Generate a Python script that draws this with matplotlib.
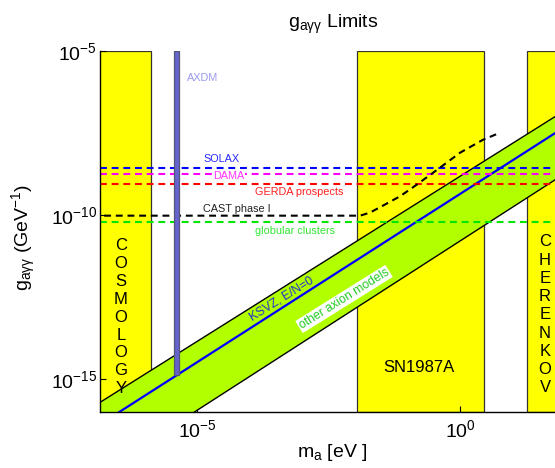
import matplotlib
matplotlib.use("Agg")
import matplotlib.pyplot as plt

plt.rcParams['font.family'] = ['Liberation Sans', 'DejaVu Sans']
plt.rcParams['mathtext.fontset'] = 'custom'
plt.rcParams['mathtext.rm'] = 'Liberation Sans'
plt.rcParams['mathtext.it'] = 'Liberation Sans:italic'
plt.rcParams['mathtext.bf'] = 'Liberation Sans:bold'

# ---------------- data ----------------
x_limits = [10 ** -6.857, 10 ** 1.81]        # m_a [eV]
y_limits = [1e-16, 1e-5]                    # g [GeV^-1]

x_ticks = [1e-5, 1e0]
x_tick_labels = [r'$10^{-5}$', r'$10^{0}$']
y_ticks = [1e-15, 1e-10, 1e-5]
y_tick_labels = [r'$10^{-15}$', r'$10^{-10}$', r'$10^{-5}$']

cosmology_m = [1e-8, 1.3e-6]
sn1987a_m = [1.1e-2, 2.85]
cherenkov_m = [19.0, 1e3]

axdm_m = [3.55e-6, 4.37e-6]
axdm_g = [1.3e-15, 1e-5]

band_m = [1e-7, 1e2]
band_upper_g = [1.41e-16, 1.55e-7]
band_lower_g = [1.0e-18, 1.86e-9]
ksvz_g = [3.0e-17, 4.9e-8]

limit_names = ['SOLAX', 'DAMA', 'GERDA prospects', 'globular clusters']
limit_values = [2.7e-9, 1.75e-9, 8.8e-10, 6.0e-11]
limit_colors = ['#0000ff', '#ff00ff', '#ff0000', '#00e600']

cast_m = [1e-7, 1.25e-2, 1.93e-2, 3.41e-2, 7.2e-2, 0.150, 0.416, 1.0, 2.74, 5.0]
cast_g = [9.6e-11, 9.6e-11, 1.19e-10, 1.94e-10, 3.73e-10, 8.45e-10, 2.78e-9, 7.94e-9, 1.97e-8, 2.94e-8]

# ---------------- figure ----------------
W, H = 555, 468
fig = plt.figure(figsize=(W / 100, H / 100), dpi=100)
AX_L, AX_R, AX_T, AX_B = 100, 555, 51, 412
ax = fig.add_axes([AX_L / W, (H - AX_B) / H, (AX_R - AX_L) / W, (AX_B - AX_T) / H])
ax.set_xscale('log')
ax.set_yscale('log')
ax.set_xlim(*x_limits)
ax.set_ylim(*y_limits)


def A(x, y):
    """pixel position -> axes fraction"""
    return (x - AX_L) / (AX_R - AX_L), (AX_B - y) / (AX_B - AX_T)


# yellow exclusion boxes
for rng in (cosmology_m, sn1987a_m, cherenkov_m):
    ax.axvspan(rng[0], rng[1], ymin=0, ymax=1, facecolor='#ffff00',
               edgecolor='#333333', linewidth=0.9, zorder=1)

# axion band
ax.fill_between(band_m, band_lower_g, band_upper_g, facecolor='#b2ff00',
                edgecolor='none', zorder=2)
ax.plot(band_m, band_upper_g, color='black', lw=1.0, zorder=3)
ax.plot(band_m, band_lower_g, color='black', lw=1.0, zorder=3)
ax.plot(band_m, ksvz_g, color='#0000ff', lw=1.6, zorder=3)

# horizontal limits
dash = (0, (3.3, 2.3))
for v, c in zip(limit_values, limit_colors):
    ax.axhline(v, color=c, lw=1.5, linestyle=dash, zorder=4)
ax.plot(cast_m, cast_g, color='black', lw=1.5, linestyle=dash, zorder=4)

# AXDM bar
ax.fill_between(axdm_m, [axdm_g[0]] * 2, [axdm_g[1]] * 2, facecolor='#6464cc',
                edgecolor='#55557a', linewidth=0.9, zorder=5)

# labels
fs = 7.8
ax.text(*A(187, 78), 'AXDM', transform=ax.transAxes, color='#9a9af0',
        fontsize=fs, ha='left', va='center', zorder=6)
ax.text(*A(203, 159.5), 'SOLAX', transform=ax.transAxes, color='#2a2aff',
        fontsize=fs, ha='left', va='center', zorder=6)
ax.text(*A(213, 176), 'DAMA', transform=ax.transAxes, color='#ff33ff',
        fontsize=fs, ha='left', va='center', zorder=6,
        bbox=dict(facecolor='white', edgecolor='none', pad=0.6))
ax.text(*A(255, 192), 'GERDA prospects', transform=ax.transAxes, color='#ff2020',
        fontsize=fs, ha='left', va='center', zorder=6)
ax.text(*A(203, 209), 'CAST phase I', transform=ax.transAxes, color='#222222',
        fontsize=fs, ha='left', va='center', zorder=6)
ax.text(*A(255, 230.5), 'globular clusters', transform=ax.transAxes, color='#33e633',
        fontsize=fs, ha='left', va='center', zorder=6)

ax.text(*A(282, 299), 'KSVZ, E/N=0', transform=ax.transAxes, color='#2233cc',
        fontsize=8.8, ha='center', va='center', rotation=32, zorder=6)
ax.text(*A(344, 299), 'other axion models', transform=ax.transAxes, color='#22cc22',
        fontsize=8.8, ha='center', va='center', rotation=32, zorder=6,
        bbox=dict(facecolor='white', edgecolor='none', pad=0.8))

ax.text(*A(419, 367), 'SN1987A', transform=ax.transAxes, color='black',
        fontsize=12, ha='center', va='center', zorder=6)

for i, ch in enumerate('COSMOLOGY'):
    ax.text(*A(121, 246 + i * 17.8), ch, transform=ax.transAxes, color='black',
            fontsize=12, ha='center', va='center', zorder=6)
for i, ch in enumerate('CHERENKOV'):
    ax.text(*A(545, 242 + i * 18.2), ch, transform=ax.transAxes, color='black',
            fontsize=12, ha='center', va='center', zorder=6)

# axes styling
for s in ('top', 'right'):
    ax.spines[s].set_visible(False)
for s in ('left', 'bottom'):
    ax.spines[s].set_linewidth(1.0)
    ax.spines[s].set_zorder(7)
ax.set_xticks(x_ticks)
ax.set_xticklabels(x_tick_labels)
ax.set_yticks(y_ticks)
ax.set_yticklabels(y_tick_labels)
ax.minorticks_off()
ax.tick_params(axis='both', direction='in', length=4, width=0.8, labelsize=14)
ax.tick_params(axis='y', pad=2)
ax.tick_params(axis='x', pad=5)

fig.text(333 / W, 1 - 27.5 / H, r'$\mathregular{g_{aγγ}}$ Limits', fontsize=14,
         ha='center', va='baseline')
fig.text(332 / W, 1 - 457 / H, r'$\mathregular{m_a}$ [eV ]', fontsize=14,
         ha='center', va='baseline')
fig.text(24 / W, 1 - 237 / H, r'$\mathregular{g_{aγγ}}$ (GeV$^{-1}$)', fontsize=14,
         ha='center', va='center', rotation=90)

fig.savefig('out.png', dpi=100)
